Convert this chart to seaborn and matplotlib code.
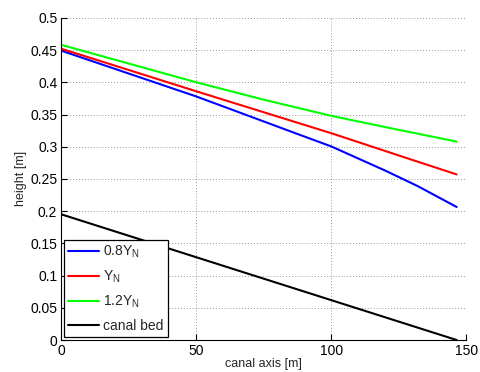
import matplotlib
matplotlib.use("Agg")
import matplotlib.pyplot as plt
import seaborn as sns
import pandas as pd

x_blue = [0, 50, 88, 100, 120, 132, 146.5]
y_blue = [0.449, 0.378, 0.319, 0.3005, 0.263, 0.239, 0.2065]

x_red = [0, 50, 100, 133, 146.5]
y_red = [0.452, 0.386, 0.321, 0.2755, 0.257]

x_green = [0, 50, 75, 100, 120, 146.5]
y_green = [0.458, 0.400, 0.373, 0.348, 0.3305, 0.308]

x_bed = [0, 146.5]
y_bed = [0.195, 0.0]

labels = [r"0.8Y$_\mathregular{N}$", r"Y$_\mathregular{N}$", r"1.2Y$_\mathregular{N}$", "canal bed"]
colors = ["#0000ff", "#ff0000", "#00ff00", "#000000"]

sns.set_style("white")
plt.rcParams["font.family"] = ["Liberation Sans", "DejaVu Sans"]
plt.rcParams["mathtext.fontset"] = "custom"
plt.rcParams["mathtext.rm"] = "Liberation Sans"

fig = plt.figure(figsize=(4.8, 3.72), dpi=100)
ax = fig.add_axes([0.128, 0.086, 0.843, 0.866])

series = [(x_blue, y_blue), (x_red, y_red), (x_green, y_green), (x_bed, y_bed)]
for (xs, ys), lab, c in zip(series, labels, colors):
    df = pd.DataFrame({"x": xs, "y": ys})
    sns.lineplot(data=df, x="x", y="y", ax=ax, color=c, label=lab, linewidth=1.5, sort=False)

ax.set_xlim(0, 150)
ax.set_ylim(0, 0.5)
ax.set_xticks([0, 50, 100, 150])
ax.set_yticks([0, 0.05, 0.1, 0.15, 0.2, 0.25, 0.3, 0.35, 0.4, 0.45, 0.5])
ax.set_yticklabels(["0", "0.05", "0.1", "0.15", "0.2", "0.25", "0.3", "0.35", "0.4", "0.45", "0.5"])
ax.grid(True, linestyle=(0, (1, 2.5)), color="#777777", linewidth=0.6)
ax.tick_params(direction="in", length=4, labelsize=10, colors="black", pad=3,
               top=False, right=False, left=True, bottom=True)
for s in ["top", "right"]:
    ax.spines[s].set_visible(False)
for s in ["left", "bottom"]:
    ax.spines[s].set_color("black")
    ax.spines[s].set_linewidth(0.8)
ax.set_xlabel("canal axis [m]", fontsize=9, labelpad=0)
ax.set_ylabel("height [m]", fontsize=9, labelpad=2)

leg = ax.legend(loc="lower left", fontsize=10, frameon=True, fancybox=False,
                edgecolor="black", framealpha=1, handlelength=2.2, handletextpad=0.3,
                borderpad=0.3, labelspacing=0.62, borderaxespad=0.2)
leg.get_frame().set_linewidth(0.9)

fig.savefig("out.png", dpi=100)
